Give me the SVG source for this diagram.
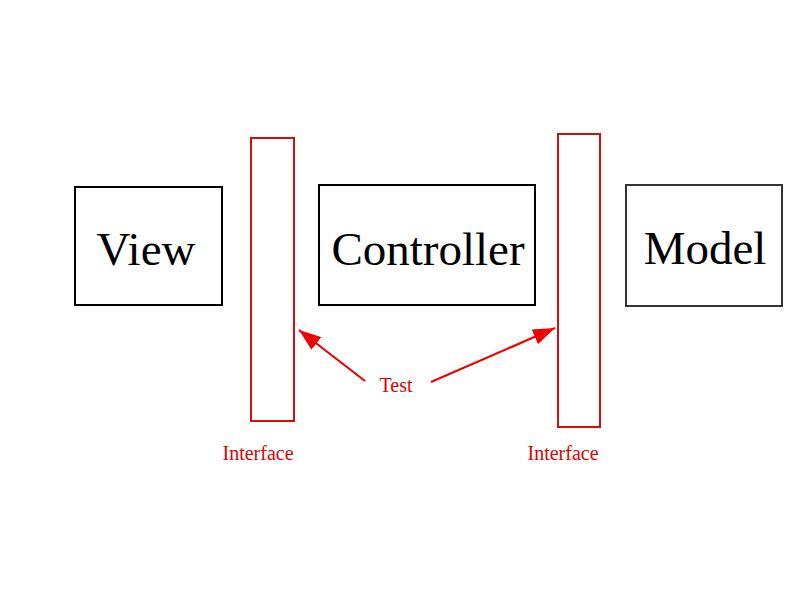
<svg xmlns="http://www.w3.org/2000/svg" width="800" height="600" viewBox="0 0 800 600">
<defs>
<style>
.box{fill:#fff;stroke:#000;stroke-width:2}
.iface{fill:none;stroke:#d01010;stroke-width:2}
.big{font-family:"Liberation Serif","Times New Roman",serif;font-size:47px;fill:#000;text-anchor:middle}
.red{font-family:"Liberation Serif","Times New Roman",serif;font-size:20px;fill:#e00000;text-anchor:middle}
.conn{stroke:#f00000;stroke-width:2.2;fill:none}
</style>
<marker id="ahb" viewBox="0 0 10 10" refX="10" refY="5" markerWidth="22" markerHeight="16" markerUnits="userSpaceOnUse" orient="auto" preserveAspectRatio="none">
<path d="M0,0 L10,5 L0,10 z" fill="#f00000"/>
</marker>
</defs>
<rect width="800" height="600" fill="#fff"/>
<g id="view">
<rect class="box" x="75" y="187" width="147" height="118"/>
<text class="big" x="146" y="265">View</text>
</g>
<g id="controller">
<rect class="box" x="319" y="185" width="216" height="120"/>
<text class="big" x="428" y="265">Controller</text>
</g>
<g id="model">
<rect class="box" x="626" y="185" width="156" height="121" style="stroke:#333"/>
<text class="big" x="705" y="264">Model</text>
</g>
<g id="interface-left">
<rect class="iface" x="251" y="138" width="43" height="283"/>
<text class="red" x="258" y="460">Interface</text>
</g>
<g id="interface-right">
<rect class="iface" x="558" y="134" width="42" height="293"/>
<text class="red" x="563" y="460">Interface</text>
</g>
<g id="test">
<text class="red" x="396" y="392">Test</text>
</g>
<g id="connectors">
<line class="conn" x1="365" y1="381" x2="299" y2="330" marker-end="url(#ahb)"/>
<line class="conn" x1="431" y1="382" x2="555" y2="328" marker-end="url(#ahb)"/>
</g>
</svg>
